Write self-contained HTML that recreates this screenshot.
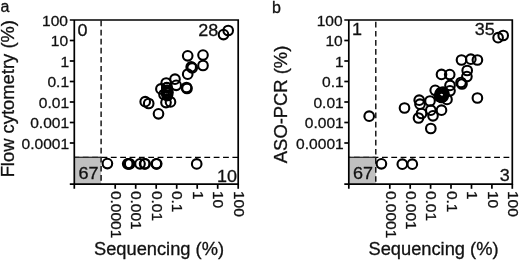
<!DOCTYPE html>
<html><head><meta charset="utf-8"><title>Figure</title>
<style>
html,body{margin:0;padding:0;background:#ffffff;}
body{width:520px;height:260px;overflow:hidden;}
svg{display:block;font-family:"Liberation Sans", sans-serif;}
.ax{stroke:#000;stroke-width:1.7;fill:none;}
.d{stroke:#000;stroke-width:1.35;stroke-dasharray:5.8 3.55;fill:none;}
.c{stroke:#000;fill:none;}
.t{font-size:15.2px;fill:#111;stroke:#111;stroke-width:0.3;}
.q{font-size:17px;fill:#111;stroke:#111;stroke-width:0.3;}
.pl{font-size:16px;fill:#111;stroke:#111;stroke-width:0.3;}
.al{font-size:18.4px;fill:#111;stroke:#111;stroke-width:0.3;}
</style></head><body>
<svg width="520" height="260" viewBox="0 0 520 260">
<rect width="520" height="260" fill="#ffffff"/>
<rect x="74.3" y="157.3" width="26.8" height="26.9" fill="#c0c0c0"/>
<line x1="101.1" y1="20.6" x2="101.1" y2="184.2" class="d" style="stroke-dasharray:5.7 3.38"/>
<line x1="238.2" y1="157.3" x2="74.3" y2="157.3" class="d"/>
<line x1="74.3" y1="157.3" x2="101.1" y2="157.3" stroke="#2a2a2a" stroke-width="1.3"/>
<path d="M69.8 20.0H238.2V184.2H69.8M74.3 20.0V188.8" class="ax"/>
<text transform="translate(68.0,25.5) scale(1.024,1)" class="t" text-anchor="end">100</text>
<line x1="69.8" y1="40.5" x2="74.3" y2="40.5" class="ax"/>
<text transform="translate(68.1,46.0) scale(1.024,1)" class="t" text-anchor="end">10</text>
<line x1="69.8" y1="61.0" x2="74.3" y2="61.0" class="ax"/>
<text transform="translate(69.1,66.5) scale(1.024,1)" class="t" text-anchor="end">1</text>
<line x1="69.8" y1="81.5" x2="74.3" y2="81.5" class="ax"/>
<text transform="translate(69.1,87.0) scale(1.024,1)" class="t" text-anchor="end">0.1</text>
<line x1="69.8" y1="102.0" x2="74.3" y2="102.0" class="ax"/>
<text transform="translate(69.1,107.5) scale(1.024,1)" class="t" text-anchor="end">0.01</text>
<line x1="69.8" y1="122.5" x2="74.3" y2="122.5" class="ax"/>
<text transform="translate(69.1,128.0) scale(1.024,1)" class="t" text-anchor="end">0.001</text>
<line x1="69.8" y1="143.0" x2="74.3" y2="143.0" class="ax"/>
<text transform="translate(69.1,148.5) scale(1.024,1)" class="t" text-anchor="end">0.0001</text>
<line x1="238.2" y1="184.2" x2="238.2" y2="188.8" class="ax"/>
<text transform="translate(233.9,190.9) rotate(90) scale(1.02,1)" class="t">100</text>
<line x1="217.7" y1="184.2" x2="217.7" y2="188.8" class="ax"/>
<text transform="translate(213.4,190.9) rotate(90) scale(1.02,1)" class="t">10</text>
<line x1="197.2" y1="184.2" x2="197.2" y2="188.8" class="ax"/>
<text transform="translate(192.9,190.9) rotate(90) scale(1.02,1)" class="t">1</text>
<line x1="176.7" y1="184.2" x2="176.7" y2="188.8" class="ax"/>
<text transform="translate(172.4,190.9) rotate(90) scale(1.02,1)" class="t">0.1</text>
<line x1="156.2" y1="184.2" x2="156.2" y2="188.8" class="ax"/>
<text transform="translate(151.9,190.9) rotate(90) scale(1.02,1)" class="t">0.01</text>
<line x1="135.7" y1="184.2" x2="135.7" y2="188.8" class="ax"/>
<text transform="translate(131.4,190.9) rotate(90) scale(1.02,1)" class="t">0.001</text>
<line x1="115.2" y1="184.2" x2="115.2" y2="188.8" class="ax"/>
<text transform="translate(110.9,190.9) rotate(90) scale(1.02,1)" class="t">0.0001</text>
<text x="0.6" y="11.8" class="pl">a</text>
<text transform="translate(14.3,98.7) rotate(-90)" class="al" text-anchor="middle">Flow cytometry (%)</text>
<text x="159.0" y="255.4" class="al" style="font-size:18.3px" text-anchor="middle">Sequencing (%)</text>
<text transform="translate(77.6,36.2) scale(1.06,1)" class="q">0</text>
<text transform="translate(218.3,36.1) scale(1.06,1)" class="q" text-anchor="end">28</text>
<text transform="translate(88.6,178.8) scale(1.06,1)" class="q" text-anchor="middle">67</text>
<text transform="translate(237.0,181.6) scale(1.06,1)" class="q" text-anchor="end">10</text>
<circle cx="228.2" cy="30.5" r="4.8" class="c" stroke-width="2.1"/>
<circle cx="223.5" cy="34.6" r="4.8" class="c" stroke-width="2.1"/>
<circle cx="187.7" cy="55.8" r="4.8" class="c" stroke-width="2.1"/>
<circle cx="203.0" cy="55.1" r="4.8" class="c" stroke-width="2.1"/>
<circle cx="203.0" cy="65.5" r="4.8" class="c" stroke-width="2.1"/>
<circle cx="191.2" cy="66.9" r="4.8" class="c" stroke-width="2.1"/>
<circle cx="192.2" cy="67.9" r="4.8" class="c" stroke-width="2.1"/>
<circle cx="187.7" cy="74.2" r="4.8" class="c" stroke-width="2.1"/>
<circle cx="175.0" cy="79.2" r="4.8" class="c" stroke-width="2.1"/>
<circle cx="166.2" cy="83.0" r="4.8" class="c" stroke-width="2.1"/>
<circle cx="176.2" cy="85.3" r="4.8" class="c" stroke-width="2.1"/>
<circle cx="186.5" cy="87.5" r="4.8" class="c" stroke-width="2.1"/>
<circle cx="187.0" cy="88.5" r="4.8" class="c" stroke-width="2.1"/>
<circle cx="160.9" cy="88.9" r="4.8" class="c" stroke-width="2.1"/>
<circle cx="145.2" cy="101.7" r="4.8" class="c" stroke-width="2.1"/>
<circle cx="148.7" cy="103.5" r="4.8" class="c" stroke-width="2.1"/>
<circle cx="158.5" cy="113.8" r="4.8" class="c" stroke-width="2.1"/>
<circle cx="166.0" cy="102.6" r="4.8" class="c" stroke-width="2.1"/>
<circle cx="170.5" cy="101.9" r="4.8" class="c" stroke-width="2.1"/>
<circle cx="166.8" cy="87.6" r="4.8" class="c" stroke-width="2.1"/>
<circle cx="167.0" cy="90.3" r="4.8" class="c" stroke-width="2.1"/>
<circle cx="166.4" cy="93.0" r="4.8" class="c" stroke-width="2.1"/>
<circle cx="167.3" cy="95.3" r="4.8" class="c" stroke-width="2.1"/>
<circle cx="168.0" cy="92.5" r="4.8" class="c" stroke-width="2.1"/>
<circle cx="166.9" cy="87.8" r="4.8" class="c" stroke-width="2.1"/>
<circle cx="167.1" cy="90.5" r="4.8" class="c" stroke-width="2.1"/>
<circle cx="164.0" cy="94.5" r="4.8" class="c" stroke-width="2.1"/>
<circle cx="167.4" cy="95.5" r="4.8" class="c" stroke-width="2.1"/>
<circle cx="107.4" cy="163.6" r="4.8" class="c" stroke-width="2.1"/>
<circle cx="127.7" cy="163.8" r="4.8" class="c" stroke-width="2.1"/>
<circle cx="128.7" cy="163.8" r="4.8" class="c" stroke-width="2.1"/>
<circle cx="129.7" cy="163.8" r="4.8" class="c" stroke-width="2.1"/>
<circle cx="140.0" cy="163.8" r="4.8" class="c" stroke-width="2.1"/>
<circle cx="144.6" cy="163.8" r="4.8" class="c" stroke-width="2.1"/>
<circle cx="145.1" cy="163.8" r="4.8" class="c" stroke-width="2.1"/>
<circle cx="156.3" cy="163.8" r="4.8" class="c" stroke-width="2.1"/>
<circle cx="156.7" cy="163.8" r="4.8" class="c" stroke-width="2.1"/>
<circle cx="196.7" cy="163.9" r="4.8" class="c" stroke-width="2.1"/>
<rect x="348.8" y="157.3" width="27.0" height="26.9" fill="#c0c0c0"/>
<line x1="375.8" y1="21.8" x2="375.8" y2="184.2" class="d" style="stroke-dasharray:5.7 3.38"/>
<line x1="509.3" y1="157.3" x2="348.8" y2="157.3" class="d"/>
<line x1="348.8" y1="157.3" x2="375.8" y2="157.3" stroke="#2a2a2a" stroke-width="1.3"/>
<path d="M344.3 20.0H512.3V184.2H344.3M348.8 20.0V188.8" class="ax"/>
<text transform="translate(342.6,25.5) scale(1.024,1)" class="t" text-anchor="end">100</text>
<line x1="344.3" y1="40.5" x2="348.8" y2="40.5" class="ax"/>
<text transform="translate(342.7,46.0) scale(1.024,1)" class="t" text-anchor="end">10</text>
<line x1="344.3" y1="61.0" x2="348.8" y2="61.0" class="ax"/>
<text transform="translate(343.7,66.5) scale(1.024,1)" class="t" text-anchor="end">1</text>
<line x1="344.3" y1="81.5" x2="348.8" y2="81.5" class="ax"/>
<text transform="translate(343.7,87.0) scale(1.024,1)" class="t" text-anchor="end">0.1</text>
<line x1="344.3" y1="102.0" x2="348.8" y2="102.0" class="ax"/>
<text transform="translate(343.7,107.5) scale(1.024,1)" class="t" text-anchor="end">0.01</text>
<line x1="344.3" y1="122.5" x2="348.8" y2="122.5" class="ax"/>
<text transform="translate(343.7,128.0) scale(1.024,1)" class="t" text-anchor="end">0.001</text>
<line x1="344.3" y1="143.0" x2="348.8" y2="143.0" class="ax"/>
<text transform="translate(343.7,148.5) scale(1.024,1)" class="t" text-anchor="end">0.0001</text>
<line x1="512.3" y1="184.2" x2="512.3" y2="188.8" class="ax"/>
<text transform="translate(508.0,190.9) rotate(90) scale(1.02,1)" class="t">100</text>
<line x1="491.9" y1="184.2" x2="491.9" y2="188.8" class="ax"/>
<text transform="translate(487.6,190.9) rotate(90) scale(1.02,1)" class="t">10</text>
<line x1="471.5" y1="184.2" x2="471.5" y2="188.8" class="ax"/>
<text transform="translate(467.2,190.9) rotate(90) scale(1.02,1)" class="t">1</text>
<line x1="451.0" y1="184.2" x2="451.0" y2="188.8" class="ax"/>
<text transform="translate(446.7,190.9) rotate(90) scale(1.02,1)" class="t">0.1</text>
<line x1="430.6" y1="184.2" x2="430.6" y2="188.8" class="ax"/>
<text transform="translate(426.3,190.9) rotate(90) scale(1.02,1)" class="t">0.01</text>
<line x1="410.2" y1="184.2" x2="410.2" y2="188.8" class="ax"/>
<text transform="translate(405.9,190.9) rotate(90) scale(1.02,1)" class="t">0.001</text>
<line x1="389.8" y1="184.2" x2="389.8" y2="188.8" class="ax"/>
<text transform="translate(385.5,190.9) rotate(90) scale(1.02,1)" class="t">0.0001</text>
<text x="272.0" y="13.2" class="pl">b</text>
<text transform="translate(287.0,104.4) rotate(-90)" class="al" text-anchor="middle">ASO-PCR (%)</text>
<text x="433.5" y="255.4" class="al" style="font-size:18.3px" text-anchor="middle">Sequencing (%)</text>
<text transform="translate(352.1,35.0) scale(1.06,1)" class="q">1</text>
<text transform="translate(494.8,34.6) scale(1.06,1)" class="q" text-anchor="end">35</text>
<text transform="translate(363.1,178.8) scale(1.06,1)" class="q" text-anchor="middle">67</text>
<text transform="translate(509.8,181.3) scale(1.06,1)" class="q" text-anchor="end">3</text>
<circle cx="503.2" cy="35.5" r="4.8" class="c" stroke-width="2.1"/>
<circle cx="498.1" cy="37.7" r="4.8" class="c" stroke-width="2.1"/>
<circle cx="461.5" cy="60.0" r="4.8" class="c" stroke-width="2.1"/>
<circle cx="470.8" cy="59.2" r="4.8" class="c" stroke-width="2.1"/>
<circle cx="477.4" cy="60.0" r="4.8" class="c" stroke-width="2.1"/>
<circle cx="467.2" cy="70.5" r="4.8" class="c" stroke-width="2.1"/>
<circle cx="466.9" cy="76.6" r="4.8" class="c" stroke-width="2.1"/>
<circle cx="441.5" cy="74.4" r="4.8" class="c" stroke-width="2.1"/>
<circle cx="449.7" cy="74.6" r="4.8" class="c" stroke-width="2.1"/>
<circle cx="461.0" cy="82.5" r="4.8" class="c" stroke-width="2.1"/>
<circle cx="462.0" cy="84.0" r="4.8" class="c" stroke-width="2.1"/>
<circle cx="450.0" cy="85.4" r="4.8" class="c" stroke-width="2.1"/>
<circle cx="450.0" cy="90.8" r="4.8" class="c" stroke-width="2.1"/>
<circle cx="477.4" cy="98.0" r="4.8" class="c" stroke-width="2.1"/>
<circle cx="435.2" cy="90.3" r="4.8" class="c" stroke-width="2.1"/>
<circle cx="447.0" cy="99.4" r="4.8" class="c" stroke-width="2.1"/>
<circle cx="430.0" cy="101.0" r="4.8" class="c" stroke-width="2.1"/>
<circle cx="419.2" cy="100.2" r="4.8" class="c" stroke-width="2.1"/>
<circle cx="420.0" cy="104.2" r="4.8" class="c" stroke-width="2.1"/>
<circle cx="404.5" cy="108.0" r="4.8" class="c" stroke-width="2.1"/>
<circle cx="441.5" cy="110.2" r="4.8" class="c" stroke-width="2.1"/>
<circle cx="430.8" cy="110.2" r="4.8" class="c" stroke-width="2.1"/>
<circle cx="421.5" cy="113.5" r="4.8" class="c" stroke-width="2.1"/>
<circle cx="418.5" cy="118.0" r="4.8" class="c" stroke-width="2.1"/>
<circle cx="433.0" cy="115.8" r="4.8" class="c" stroke-width="2.1"/>
<circle cx="430.8" cy="128.5" r="4.8" class="c" stroke-width="2.1"/>
<circle cx="441.0" cy="92.5" r="4.8" class="c" stroke-width="2.1"/>
<circle cx="442.0" cy="94.5" r="4.8" class="c" stroke-width="2.1"/>
<circle cx="440.5" cy="96.0" r="4.8" class="c" stroke-width="2.1"/>
<circle cx="443.0" cy="92.0" r="4.8" class="c" stroke-width="2.1"/>
<circle cx="440.0" cy="94.0" r="4.8" class="c" stroke-width="2.1"/>
<circle cx="443.0" cy="96.5" r="4.8" class="c" stroke-width="2.1"/>
<circle cx="441.5" cy="97.5" r="4.8" class="c" stroke-width="2.1"/>
<circle cx="444.0" cy="94.0" r="4.8" class="c" stroke-width="2.1"/>
<circle cx="439.5" cy="96.5" r="4.8" class="c" stroke-width="2.1"/>
<circle cx="381.4" cy="163.8" r="4.8" class="c" stroke-width="2.1"/>
<circle cx="402.3" cy="164.2" r="4.8" class="c" stroke-width="2.1"/>
<circle cx="412.3" cy="164.2" r="4.8" class="c" stroke-width="2.1"/>
<circle cx="369.2" cy="116.2" r="4.8" class="c" stroke-width="2.1"/>
</svg>
</body></html>
